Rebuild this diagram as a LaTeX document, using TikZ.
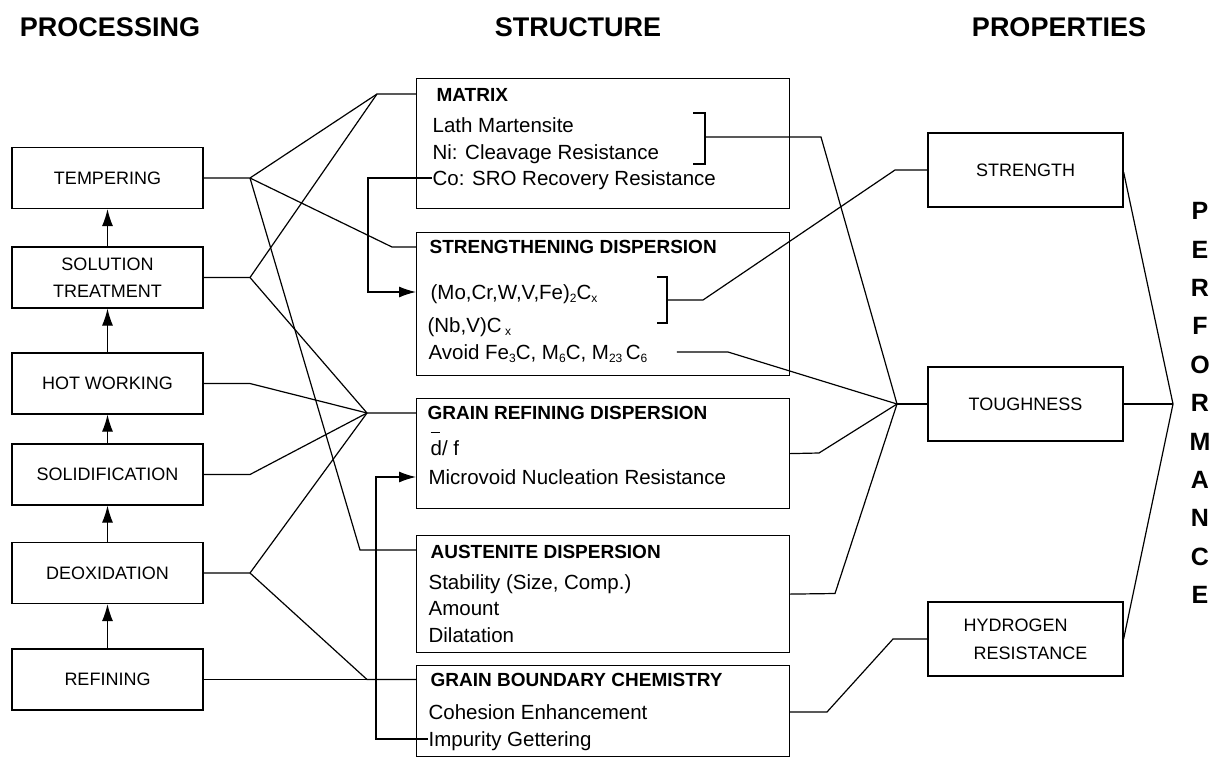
\documentclass[tikz,border=0pt]{standalone}
\usepackage{fontspec}
\setmainfont{Liberation Sans}
\usetikzlibrary{arrows.meta}
\newcommand\lo[1]{\raisebox{-0.25ex}{\fontsize{12}{12}\selectfont #1}}
\newcommand\dbar{\rlap{\raisebox{1.1em}{\rule{0.45em}{0.7pt}}}d}
\tikzset{
  procbox/.style={draw, minimum width=191pt, minimum height=61pt, align=center, font=\fontsize{18}{27}\selectfont},
  propbox/.style={draw, minimum width=195pt, minimum height=74pt, font=\fontsize{18}{28}\selectfont},
  strbox/.style={draw, anchor=north west, minimum width=373pt, inner sep=0pt},
  head/.style={font=\bfseries\fontsize{27}{30}\selectfont},
  ttl/.style={anchor=west, inner sep=0pt, text height=13.8pt, text depth=0pt, font=\bfseries\fontsize{19}{22}\selectfont},
  item/.style={anchor=west, inner sep=0pt, text height=14.6pt, text depth=0pt, font=\fontsize{20.5}{24}\selectfont},
  brk/.style={line width=2.6pt},
  perf/.style={font=\bfseries\fontsize{25}{25}\selectfont},
  arr/.style={-{Latex[length=17pt,width=11pt]}}
}
\begin{document}
\begin{tikzpicture}[x=1pt,y=-1pt,line width=1.2pt]
    \useasboundingbox (0,0) rectangle (1215,758);
    \node[head] (hProc) at (110,27) {PROCESSING};
    \node[head] (hStruct) at (578,27) {STRUCTURE};
    \node[head] (hProp) at (1059,27) {PROPERTIES};
    % processing column
    \node[procbox] (temp) at (107.5,178) {TEMPERING};
    \node[procbox] (sol) at (107.5,277.5) {SOLUTION\\TREATMENT};
    \node[procbox] (hot) at (107.5,383.5) {HOT WORKING};
    \node[procbox] (solid) at (107.5,474.5) {SOLIDIFICATION};
    \node[procbox] (deox) at (107.5,573) {DEOXIDATION};
    \node[procbox] (ref) at (107.5,679.5) {REFINING};
    \draw[arr] (ref) -- (deox);
    \draw[arr] (deox) -- (solid);
    \draw[arr] (solid) -- (hot);
    \draw[arr] (hot) -- (sol);
    \draw[arr] (sol) -- (temp);
    % structure column
    \node[strbox, minimum height=130pt] (matrix) at (416,78) {};
    \node[strbox, minimum height=143pt] (strdisp) at (416,232) {};
    \node[strbox, minimum height=110pt] (grdisp) at (416,398) {};
    \node[strbox, minimum height=117pt] (ausdisp) at (416,535) {};
    \node[strbox, minimum height=91pt] (gbchem) at (416,665) {};
    \node[ttl] (mx0) at (436,95) {MATRIX};
    \node[item] (mx1) at (432,125) {Lath Martensite};
    \node[item] (mx2) at (432,152) {Ni: Cleavage Resistance};
    \node[item] (mx3) at (432,178) {Co: SRO Recovery Resistance};
    \node[ttl] (sd0) at (429,247) {STRENGTHENING DISPERSION};
    \node[item] (sd1) at (430,292) {(Mo,Cr,W,V,Fe)\lo{2}C\lo{x}};
    \node[item] (sd2) at (427,325) {(Nb,V)C\,\lo{x}};
    \node[item] (sd3) at (428,352) {Avoid Fe\lo{3}C, M\lo{6}C, M\lo{23}\,C\lo{6}};
    \node[ttl] (gr0) at (427,413) {GRAIN REFINING DISPERSION};
    \node[item] (gr1) at (430,448) {\dbar/ f};
    \node[item] (gr2) at (428,477) {Microvoid Nucleation Resistance};
    \node[ttl] (au0) at (430,552) {AUSTENITE DISPERSION};
    \node[item] (au1) at (428,582) {Stability (Size, Comp.)};
    \node[item] (au2) at (428,608) {Amount};
    \node[item] (au3) at (428,635) {Dilatation};
    \node[ttl] (gb0) at (430,680) {GRAIN BOUNDARY CHEMISTRY};
    \node[item] (gb1) at (428,712) {Cohesion Enhancement};
    \node[item] (gb2) at (428,739) {Impurity Gettering};
    \draw[brk] (693,113) -- (705,113) -- (705,164) -- (693,164);
    \draw[brk] (657,277) -- (667,277) -- (667,323) -- (657,323);
    \coordinate (brM) at (705,137);
    \coordinate (brS) at (667,300);
    % properties column
    \node[propbox] (strength) at (1025.5,170) {STRENGTH};
    \node[propbox] (tough) at (1025.5,404) {TOUGHNESS};
    \node[propbox, align=left] (hydro) at (1025.5,639) {HYDROGEN\\\hspace*{10pt}RESISTANCE};
    \foreach \ch [count=\i] in {P,E,R,F,O,R,M,A,N,C,E}
        \node[perf] (pf\i) at (1200,{211+38.4*(\i-1)}) {\ch};
    % junctions
    \coordinate (kT) at (250,178);
    \coordinate (kS) at (250,277.5);
    \coordinate (kH) at (250,383.5);
    \coordinate (kSo) at (250,474.5);
    \coordinate (kD) at (250,573);
    \coordinate (jMx) at (377,94);
    \coordinate (jSd) at (392,247);
    \coordinate (jGr) at (367,413);
    \coordinate (jAu) at (360,550);
    \coordinate (jGb) at (367,679.5);
    \coordinate (kCo) at (368,178);
    \coordinate (kIm) at (376,739);
    \coordinate (kM) at (821,137);
    \coordinate (kSt) at (703,300);
    \coordinate (jSt) at (895,170);
    \coordinate (kGr) at (819,453);
    \coordinate (kAu) at (835,593.5);
    \coordinate (kGb) at (827,712);
    \coordinate (jHy) at (893,639);
    \coordinate (jTo) at (897,404);
    \coordinate (jPf) at (1173,404);
    \draw (temp.east) -- (kT) -- (jMx) -- (jMx -| matrix.west);
    \draw (kT) -- (jSd) -- (jSd -| strdisp.west);
    \draw (kT) -- (jAu) -- (jAu -| ausdisp.west);
    \draw (sol.east) -- (kS) -- (jMx);
    \draw (kS) -- (jGr) -- (jGr -| grdisp.west);
    \draw (hot.east) -- (kH) -- (jGr);
    \draw (solid.east) -- (kSo) -- (jGr);
    \draw (deox.east) -- (kD) -- (jGr);
    \draw (kD) -- (jGb) -- (jGb -| gbchem.west);
    \draw (ref.east) -- (jGb);
    \draw[arr] (mx3.west) -- (kCo) |- (sd1.west -| strdisp.west);
    \draw[arr] (gb2.west) -- (kIm) |- (gr2.west -| grdisp.west);
    \draw (brM) -- (kM) -- (jTo);
    \draw (brS) -- (kSt) -- (jSt) -- (strength.west);
    \draw ([xshift=29pt]sd3.east) -- (728,352) -- (jTo);
    \draw (grdisp.east) -- (kGr) -- (jTo);
    \draw (ausdisp.east) -- (kAu) -- (jTo);
    \draw (gb1.east -| gbchem.east) -- (kGb) -- (jHy) -- (hydro.west);
    \draw (jTo) -- (tough.west);
    \draw ([yshift=-2pt]strength.east) -- (jPf);
    \draw (tough.east) -- (jPf);
    \draw (hydro.east) -- (jPf);
\end{tikzpicture}
\end{document}
